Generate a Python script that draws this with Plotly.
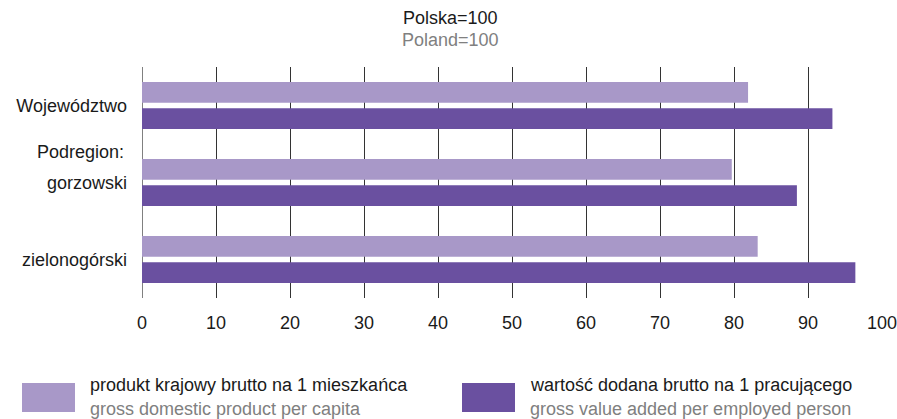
import plotly.graph_objects as go

categories = ["Województwo", "gorzowski", "zielonogórski"]
gdp_per_capita = [81.9, 79.7, 83.2]
gva_per_employed = [93.3, 88.5, 96.4]
x_ticks = [0, 10, 20, 30, 40, 50, 60, 70, 80, 90, 100]

series_pl = ["produkt krajowy brutto na 1 mieszkańca", "wartość dodana brutto na 1 pracującego"]
series_en = ["gross domestic product per capita", "gross value added per employed person"]
colors = ["#A898C8", "#6A50A0"]

FONT = "Liberation Sans, Arial, Helvetica, sans-serif"

fig = go.Figure()
fig.add_trace(go.Bar(y=categories, x=gdp_per_capita, orientation="h",
                     marker=dict(color=colors[0], line=dict(width=0)), name=series_en[0]))
fig.add_trace(go.Bar(y=categories, x=gva_per_employed, orientation="h",
                     marker=dict(color=colors[1], line=dict(width=0)), name=series_en[1]))

fig.update_layout(
    width=897, height=419,
    margin=dict(l=142, r=15, t=67, b=121, autoexpand=False),
    paper_bgcolor="white", plot_bgcolor="white",
    barmode="group", bargap=0.317, bargroupgap=0.217,
    showlegend=False,
    font=dict(family=FONT, size=18, color="#1a1a1a"),
)
fig.update_xaxes(range=[0, 100], tickvals=x_ticks, ticktext=[str(v) for v in x_ticks],
                 showgrid=True, gridcolor="#333333", gridwidth=1,
                 zeroline=True, zerolinecolor="#808080", zerolinewidth=1,
                 showline=False, ticks="", ticklabelstandoff=12, ticklabeloverflow="allow",
                 automargin=False,
                 tickfont=dict(size=18, color="#1a1a1a"), fixedrange=True)
fig.update_yaxes(autorange="reversed", showgrid=False, zeroline=False, showline=False,
                 ticks="", ticklabelstandoff=14, automargin=False,
                 tickfont=dict(size=18, color="#1a1a1a"), fixedrange=True)

# title lines
fig.add_annotation(text="Polska=100", xref="paper", yref="paper", x=(450 - 142) / 740,
                   y=1 + (67 - 18) / 231, showarrow=False, xanchor="center", yanchor="middle",
                   font=dict(size=18, color="#1a1a1a"))
fig.add_annotation(text="Poland=100", xref="paper", yref="paper", x=(450 - 142) / 740,
                   y=1 + (67 - 40) / 231, showarrow=False, xanchor="center", yanchor="middle",
                   font=dict(size=18, color="#808080"))

# subregion header label
fig.add_annotation(text="Podregion:", xref="paper", yref="paper", x=(126 - 142) / 740,
                   y=(298 - 152) / 231, showarrow=False, xanchor="right", yanchor="middle",
                   font=dict(size=18, color="#1a1a1a"))

# custom legend
legend_x = [22, 462]
for i in range(2):
    x0 = (legend_x[i] - 142) / 740
    x1 = (legend_x[i] + 53 - 142) / 740
    fig.add_shape(type="rect", xref="paper", yref="paper", x0=x0, x1=x1,
                  y0=(298 - 412) / 231, y1=(298 - 383) / 231,
                  fillcolor=colors[i], line=dict(width=0))
    tx = (legend_x[i] + 66 - 142) / 740
    fig.add_annotation(text=series_pl[i], xref="paper", yref="paper", x=tx,
                       y=(298 - 385) / 231, showarrow=False, xanchor="left", yanchor="middle",
                       font=dict(size=18, color="#1a1a1a"))
    fig.add_annotation(text=series_en[i], xref="paper", yref="paper", x=tx,
                       y=(298 - 409) / 231, showarrow=False, xanchor="left", yanchor="middle",
                       font=dict(size=18, color="#808080"))

fig.write_html("out.html", config={"displayModeBar": False},
               post_script="document.body.style.margin='0';document.body.style.overflow='hidden';")
